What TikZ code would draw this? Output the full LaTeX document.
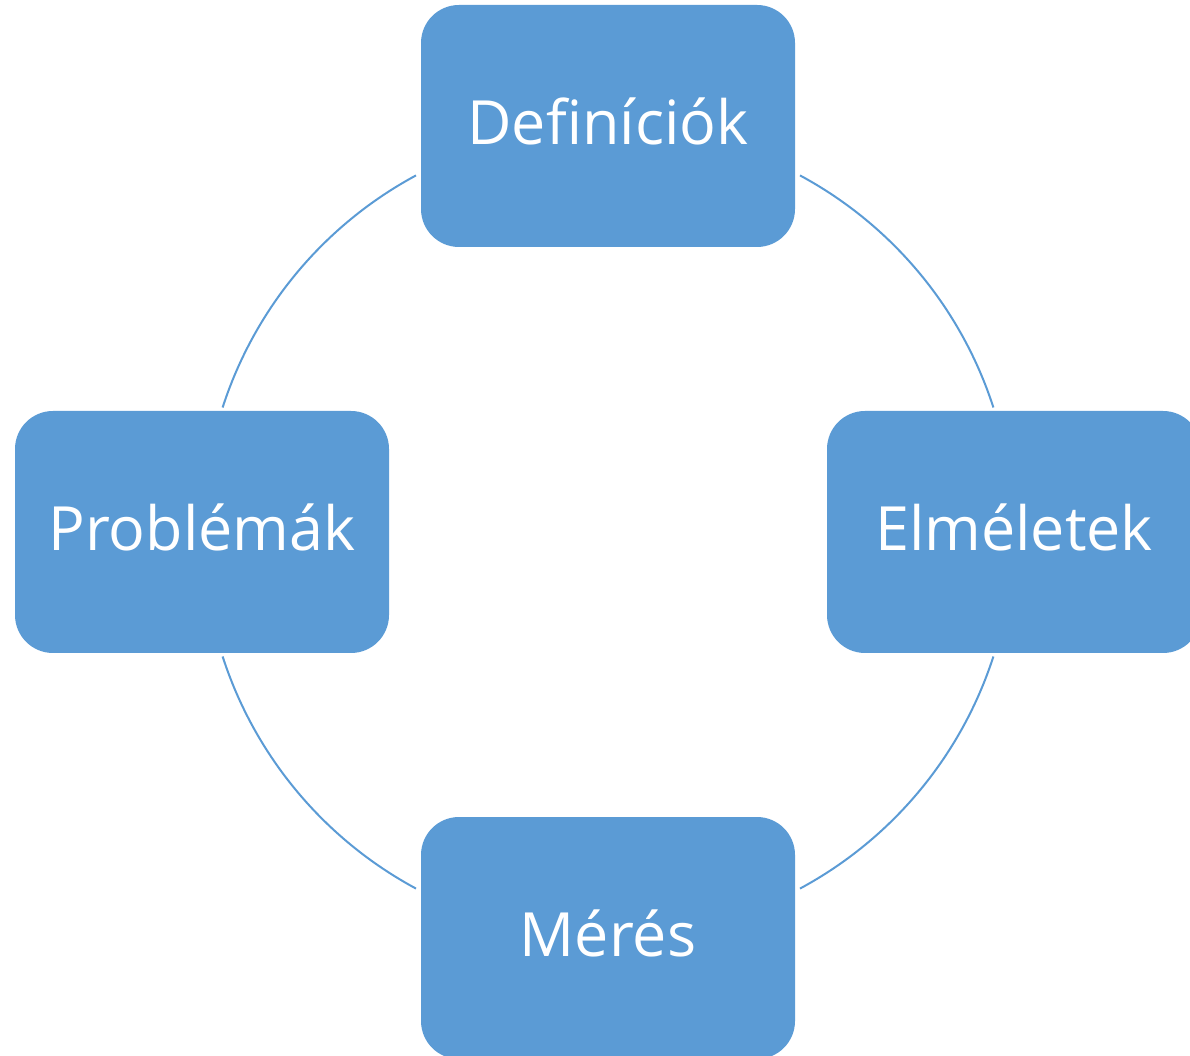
\documentclass[tikz,border=0pt]{standalone}
\usepackage{fontspec}
\setmainfont{Open Sans}
\usetikzlibrary{calc}
\definecolor{boxblue}{HTML}{5B9BD5}
\tikzset{
	stage/.style={fill=boxblue, rounded corners=38pt, minimum width=374pt, minimum height=242pt, inner sep=0pt, outer sep=0pt, text depth=10pt, text=white, font=\fontsize{61}{61}\selectfont},
	link/.style={draw=boxblue, line width=2pt}
}

\begin{document}
\begin{tikzpicture}[x=1pt,y=1pt]
		%%%%% START %%%%%
		\useasboundingbox (0,0) rectangle (1190,1055);
		\clip (0,0) rectangle (1190,1055);
		\coordinate (c) at (608,523);
		
		\node[stage] (def) at ($(c)+(90:406)$) {Definíciók};
		\node[stage] (elm) at ($(c)+(0:406)$) {Elméletek};
		\node[stage] (mer) at ($(c)+(270:406)$) {Mérés};
		\node[stage] (pro) at ($(c)+(180:406)$) {Problémák};
		
		\draw[link] ($(c)+(61.7:405)$) arc (61.7:17.9:405);
		\draw[link] ($(c)+(-17.9:405)$) arc (-17.9:-61.7:405);
		\draw[link] ($(c)+(-118.3:405)$) arc (-118.3:-162.1:405);
		\draw[link] ($(c)+(162.1:405)$) arc (162.1:118.3:405);
		%%%%% END %%%%%
	\end{tikzpicture}
\end{document}
